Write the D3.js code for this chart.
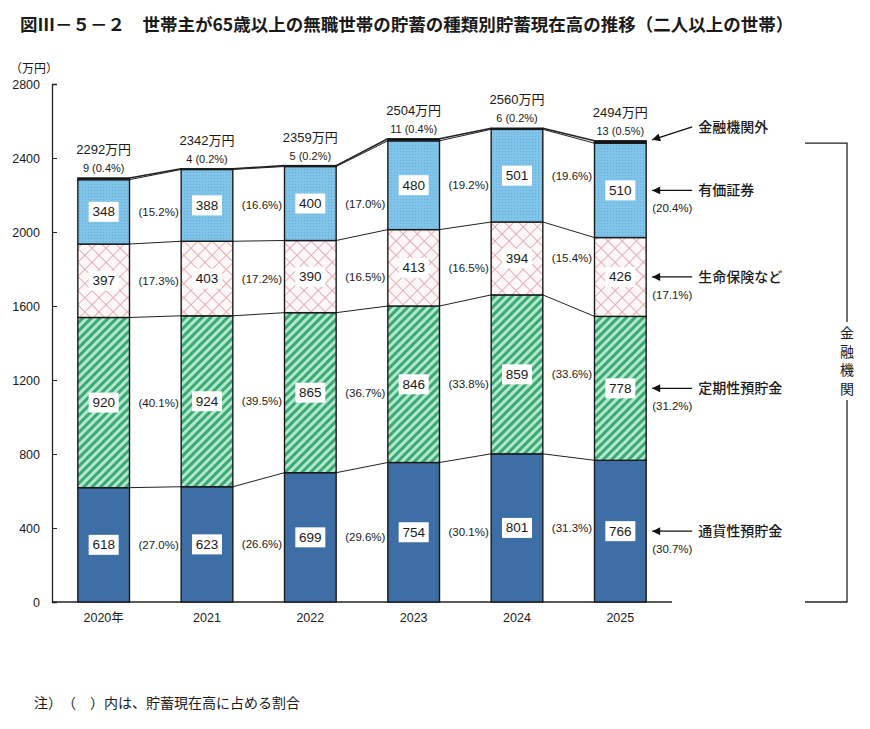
<!DOCTYPE html>
<html lang="ja">
<head>
<meta charset="utf-8">
<title>貯蓄の種類別貯蓄現在高の推移</title>
<script src="https://d3js.org/d3.v7.min.js"></script>
<style>
  body { margin: 0; background: #fff; }
  text { font-family: "Liberation Sans", "Noto Sans CJK JP", sans-serif; fill: #1a1a1a; }
</style>
</head>
<body>
<script>
// data
var years = ["2020年", "2021", "2022", "2023", "2024", "2025"];
var seriesNames = ["通貨性預貯金", "定期性預貯金", "生命保険など", "有価証券", "金融機関外"];
var tsuuka = [618, 623, 699, 754, 801, 766];
var teiki = [920, 924, 865, 846, 859, 778];
var seimei = [397, 403, 390, 413, 394, 426];
var yuuka = [348, 388, 400, 480, 501, 510];
var gaibu = [9, 4, 5, 11, 6, 13];
var tsuukaPct = ["27.0", "26.6", "29.6", "30.1", "31.3", "30.7"];
var teikiPct = ["40.1", "39.5", "36.7", "33.8", "33.6", "31.2"];
var seimeiPct = ["17.3", "17.2", "16.5", "16.5", "15.4", "17.1"];
var yuukaPct = ["15.2", "16.6", "17.0", "19.2", "19.6", "20.4"];
var gaibuPct = ["0.4", "0.2", "0.2", "0.4", "0.2", "0.5"];
var totals = [2292, 2342, 2359, 2504, 2560, 2494];
var yTicks = [0, 400, 800, 1200, 1600, 2000, 2400, 2800];

var W = 870, H = 729;
var svg = d3.select("body").append("svg")
  .attr("width", W).attr("height", H);

var values = [tsuuka, teiki, seimei, yuuka, gaibu];
var pcts = [tsuukaPct, teikiPct, seimeiPct, yuukaPct, gaibuPct];

// patterns
var defs = svg.append("defs");
var pBlue = defs.append("pattern").attr("id", "pBlue")
  .attr("width", 3).attr("height", 3).attr("patternUnits", "userSpaceOnUse");
pBlue.append("rect").attr("width", 3).attr("height", 3).attr("fill", "#80c4ea");
pBlue.append("rect").attr("x", 1).attr("y", 1).attr("width", 1).attr("height", 1).attr("fill", "#68acd8");

var pPink = defs.append("pattern").attr("id", "pPink")
  .attr("width", 10).attr("height", 10).attr("patternUnits", "userSpaceOnUse")
  .attr("patternTransform", "rotate(45)");
pPink.append("rect").attr("width", 10).attr("height", 10).attr("fill", "#fdf7f7");
pPink.append("line").attr("x1", 0).attr("y1", 0).attr("x2", 10).attr("y2", 0)
  .attr("stroke", "#e4a6ad").attr("stroke-width", 1.8);
pPink.append("line").attr("x1", 0).attr("y1", 0).attr("x2", 0).attr("y2", 10)
  .attr("stroke", "#e4a6ad").attr("stroke-width", 1.8);

var pGreen = defs.append("pattern").attr("id", "pGreen")
  .attr("width", 6).attr("height", 6).attr("patternUnits", "userSpaceOnUse")
  .attr("patternTransform", "rotate(45)");
pGreen.append("rect").attr("width", 6).attr("height", 6).attr("fill", "#b0e8cf");
pGreen.append("rect").attr("width", 3).attr("height", 6).attr("fill", "#3da872");

var fills = ["#3e6ea6", "url(#pGreen)", "url(#pPink)", "url(#pBlue)", "#111"];

var x = d3.scaleBand().domain(years).range([52, 672])
  .paddingInner(0.5).paddingOuter(0.25);
var y = d3.scaleLinear().domain([0, 2800]).range([602, 84]);
var bw = x.bandwidth();

// stacked cumulative values
var stack = years.map(function(yr, i) {
  var c = 0, segs = [];
  values.forEach(function(arr, k) {
    segs.push({ k: k, i: i, y0: c, y1: c + arr[i], v: arr[i], p: pcts[k][i] });
    c += arr[i];
  });
  return segs;
});

// title
svg.append("text").attr("x", 20).attr("y", 31)
  .attr("font-size", 17.5).attr("font-weight", "bold")
  .style("font-family", "'Noto Sans CJK JP', sans-serif")
  .text("図Ⅲ－５－２　世帯主が65歳以上の無職世帯の貯蓄の種類別貯蓄現在高の推移（二人以上の世帯）");

// y axis
svg.append("g").attr("transform", "translate(52,0)")
  .call(d3.axisLeft(y).tickValues(yTicks).tickFormat(d3.format("d")).tickSize(-5).tickPadding(12))
  .call(function(g) {
    g.select(".domain").attr("stroke", "#222").attr("stroke-width", 1.3);
    g.selectAll(".tick line").attr("stroke", "#222");
    g.selectAll("text").attr("font-size", 12.5).style("font-family", "'Liberation Sans', sans-serif");
  });

svg.append("text").attr("x", 10).attr("y", 73).attr("font-size", 12)
  .style("font-family", "'Noto Sans CJK JP', sans-serif").text("（万円）");

// baseline
svg.append("line").attr("x1", 52).attr("x2", 672)
  .attr("y1", y(0)).attr("y2", y(0)).attr("stroke", "#222").attr("stroke-width", 1.3);

// connecting lines between bars
for (var k = 0; k < 5; k++) {
  for (var i = 0; i < years.length - 1; i++) {
    var a = stack[i][k].y1, b = stack[i + 1][k].y1;
    svg.append("line")
      .attr("x1", x(years[i]) + bw).attr("y1", y(a))
      .attr("x2", x(years[i + 1])).attr("y2", y(b))
      .attr("stroke", "#222").attr("stroke-width", k === 4 ? 1.6 : 1);
  }
}

// bars
var bars = svg.append("g").selectAll("g").data(stack).enter().append("g");
bars.selectAll("rect").data(function(d) { return d; }).enter().append("rect")
  .attr("x", function(d) { return x(years[d.i]); })
  .attr("width", bw)
  .attr("y", function(d) { return y(d.y1); })
  .attr("height", function(d) { return y(d.y0) - y(d.y1); })
  .attr("fill", function(d) { return fills[d.k]; })
  .attr("stroke", "#1a1a1a").attr("stroke-width", 1.4);

// value boxes and percentages (4 main series)
stack.forEach(function(segs, i) {
  segs.slice(0, 4).forEach(function(d) {
    var cx = x(years[i]) + bw / 2, cy = y((d.y0 + d.y1) / 2);
    svg.append("rect").attr("x", cx - 15).attr("y", cy - 10)
      .attr("width", 30).attr("height", 20).attr("fill", "#fff");
    svg.append("text").attr("x", cx).attr("y", cy + 4.5)
      .attr("text-anchor", "middle").attr("font-size", 13.5).text(d.v);
    var last = i === years.length - 1;
    svg.append("text").attr("x", x(years[i]) + bw + (last ? 6 : 9))
      .attr("y", cy + (last ? 22 : 4))
      .attr("font-size", 11.5).text("(" + d.p + "%)");
  });
  var top = y(totals[i]);
  var cx = x(years[i]) + bw / 2;
  svg.append("text").attr("x", cx).attr("y", top - 6)
    .attr("text-anchor", "middle").attr("font-size", 11)
    .text(segs[4].v + " (" + segs[4].p + "%)");
  svg.append("text").attr("x", cx).attr("y", top - 24)
    .attr("text-anchor", "middle").attr("font-size", 13)
    .text(totals[i] + "万円");
});

// year labels
svg.append("g").selectAll("text").data(years).enter().append("text")
  .attr("x", function(d) { return x(d) + bw / 2; })
  .attr("y", 622).attr("text-anchor", "middle").attr("font-size", 12.5)
  .text(function(d) { return d; });

// legend arrows pointing at the last bar
defs.append("marker").attr("id", "arr").attr("viewBox", "0 0 10 10")
  .attr("refX", 10).attr("refY", 5).attr("markerWidth", 10).attr("markerHeight", 8)
  .attr("markerUnits", "userSpaceOnUse").attr("orient", "auto")
  .append("path").attr("d", "M0,0L10,5L0,10Z").attr("fill", "#111");

var lastSegs = stack[years.length - 1];
var tipX = x(years[years.length - 1]) + bw + 6;
lastSegs.forEach(function(d) {
  var cy, sy;
  if (d.k === 4) { cy = y(d.y1) - 1; sy = cy - 13; }
  else { cy = y((d.y0 + d.y1) / 2); sy = cy; }
  svg.append("line").attr("x1", tipX + 40).attr("y1", sy)
    .attr("x2", tipX).attr("y2", cy)
    .attr("stroke", "#111").attr("stroke-width", 1.3)
    .attr("marker-end", "url(#arr)");
  svg.append("text").attr("x", tipX + 46).attr("y", sy + 5)
    .attr("font-size", 14).style("font-family", "'Noto Sans CJK JP', sans-serif")
    .attr("font-weight", 500).text(seriesNames[d.k]);
});

// bracket for 金融機関
var bTop = y(lastSegs[3].y1), bBot = y(0);
svg.append("path")
  .attr("d", "M805," + bTop + "H847V322M847,400V" + bBot + "H805")
  .attr("fill", "none").attr("stroke", "#222").attr("stroke-width", 1.3);
["金", "融", "機", "関"].forEach(function(c, j) {
  svg.append("text").attr("x", 847).attr("y", 338 + j * 18.5)
    .attr("text-anchor", "middle").attr("font-size", 14)
    .style("font-family", "'Noto Sans CJK JP', sans-serif").text(c);
});

// note
svg.append("text").attr("x", 34).attr("y", 708).attr("font-size", 14)
  .style("font-family", "'Noto Sans CJK JP', sans-serif")
  .text("注）　（　）内は、貯蓄現在高に占める割合");
</script>
</body>
</html>
